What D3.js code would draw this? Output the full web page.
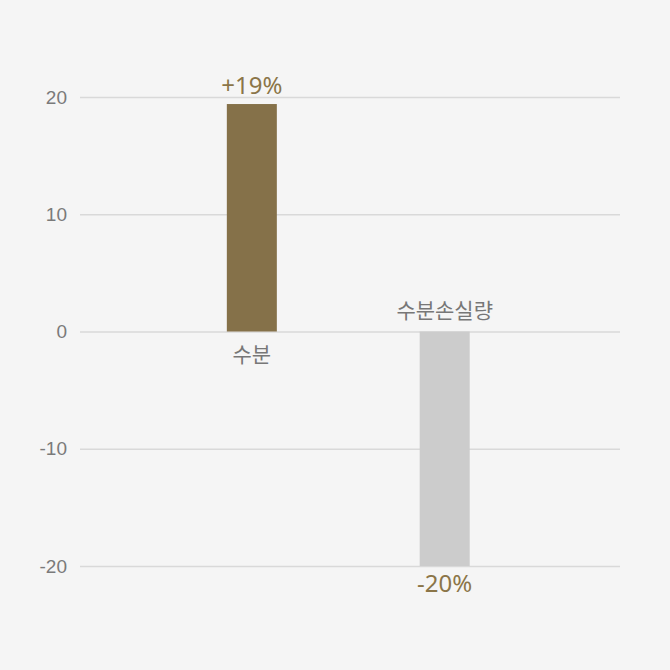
<!DOCTYPE html>
<html>
<head>
<meta charset="utf-8">
<script src="https://cdn.jsdelivr.net/npm/d3@7"></script>
<style>
  body { margin: 0; background: #f5f5f5; }
</style>
</head>
<body>
<div id="chart-container"></div>
<script>
const categories = ["수분", "수분손실량"];
const values = [19.4, -20];
const valueLabels = ["+19%", "-20%"];
const yTicks = [-20, -10, 0, 10, 20];
const barColors = ["#857149", "#cccccc"];

const width = 670;
const height = 670;
const marginTop = 97;
const marginRight = 50;
const marginBottom = 104;
const marginLeft = 80;

const x = d3.scalePoint()
    .domain(categories)
    .range([marginLeft, width - marginRight])
    .padding(0.9)
    .align(0.495);

const y = d3.scaleLinear()
    .domain([-20, 20])
    .range([height - marginBottom, marginTop]);

const barWidth = 50;

const svg = d3.select("#chart-container")
    .append("svg")
    .attr("width", width)
    .attr("height", height)
    .attr("viewBox", [0, 0, width, height])
    .style("font-family", "'Noto Sans', 'Noto Sans CJK KR', sans-serif");

svg.append("rect")
    .attr("width", width)
    .attr("height", height)
    .attr("fill", "#f5f5f5");

// grille + étiquettes de l'axe Y
svg.append("g")
    .attr("transform", `translate(${marginLeft},0)`)
    .call(d3.axisLeft(y)
        .tickValues(yTicks)
        .tickFormat(d => String(d))
        .tickSize(-(width - marginLeft - marginRight))
        .tickPadding(13))
    .call(g => g.select(".domain").remove())
    .call(g => g.selectAll(".tick line").attr("stroke", "#d9d9d9").attr("stroke-width", 1.5))
    .call(g => g.selectAll(".tick text")
        .attr("fill", "#7a7a7a")
        .attr("font-size", "19px"));

// barres
svg.append("g")
    .selectAll("rect")
    .data(categories)
    .join("rect")
    .attr("x", d => x(d) - barWidth / 2)
    .attr("y", (d, i) => y(Math.max(0, values[i])))
    .attr("width", barWidth)
    .attr("height", (d, i) => Math.abs(y(values[i]) - y(0)))
    .attr("fill", (d, i) => barColors[i]);

// valeurs
svg.append("g")
    .selectAll("text")
    .data(categories)
    .join("text")
    .attr("x", d => x(d))
    .attr("y", (d, i) => values[i] >= 0 ? y(values[i]) - 10 : y(values[i]) + 26)
    .attr("text-anchor", "middle")
    .attr("font-size", "24px")
    .attr("fill", "#8b7548")
    .text((d, i) => valueLabels[i]);

// catégories
svg.append("g")
    .selectAll("text")
    .data(categories)
    .join("text")
    .attr("x", d => x(d))
    .attr("y", (d, i) => values[i] >= 0 ? y(0) + 30 : y(0) - 14)
    .attr("text-anchor", "middle")
    .attr("font-family", "'Noto Sans CJK KR', sans-serif")
    .attr("font-size", "21px")
    .attr("fill", "#777777")
    .text(d => d);
</script>
</body>
</html>
